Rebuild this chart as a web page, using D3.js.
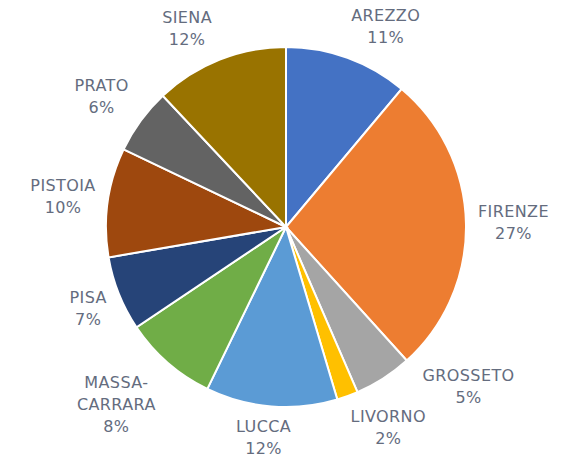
<!DOCTYPE html>
<html>
<head>
<meta charset="utf-8">
<script src="https://cdn.jsdelivr.net/npm/d3@7"></script>
<style>
  body { margin: 0; background: #fff; }
  svg text { font-family: "DejaVu Sans", sans-serif; font-size: 16px; letter-spacing: 0.4px; fill: #646c7e; }
</style>
</head>
<body>
<svg id="pie" width="564" height="457"></svg>
<script>
// provinces, clockwise from 12 o'clock
const province = ["AREZZO", "FIRENZE", "GROSSETO", "LIVORNO", "LUCCA",
                  "MASSA-CARRARA", "PISA", "PISTOIA", "PRATO", "SIENA"];
const quota = [11.1, 27.2, 5.2, 1.9, 11.8, 8.4, 6.7, 9.8, 5.9, 12.0];
const colori = ["#4472C4", "#ED7D31", "#A5A5A5", "#FFC000", "#5B9BD5",
                "#70AD47", "#264478", "#9E480E", "#636363", "#997300"];

const svg = d3.select("#pie"),
  cx = 286, cy = 227, R = 180;

const data = province.map((p, i) => ({ nome: p, valore: quota[i] }));
const totale = d3.sum(quota);

const pie = d3.pie().sort(null).value(d => d.valore);
const arc = d3.arc().innerRadius(0).outerRadius(R);
const archi = pie(data);

const g = svg.append("g").attr("transform", "translate(" + cx + "," + cy + ")");

g.selectAll("path")
  .data(archi)
  .enter()
  .append("path")
  .attr("d", arc)
  .attr("fill", (d, i) => colori[i])
  .attr("stroke", "#fff")
  .attr("stroke-width", 2);

// labels: name (split after hyphen) + percent
const lineH = 22;
const etichette = g.selectAll("text.lab")
  .data(archi)
  .enter()
  .append("text")
  .attr("class", "lab")
  .attr("text-anchor", "middle");

etichette.each(function(d) {
  const righe = d.data.nome.split(/(?<=-)/);
  righe.push(Math.round(d.data.valore / totale * 100) + "%");
  const t = d3.select(this);
  righe.forEach((r, k) => {
    t.append("tspan").attr("x", 0).attr("dy", k === 0 ? 0 : lineH).text(r);
  });
});

const clamp = v => Math.max(-1, Math.min(1, v));
function posizione(el, ang) {
  const bb = el.getBBox();
  const s = Math.sin(ang), c = Math.cos(ang);
  const x = R * s + (bb.width / 2 + 12) * clamp(s * 2.4);
  const y = -R * c - (bb.height / 2 + 11) * clamp(c * 1.3);
  return { x: x, y: y, w: bb.width, h: bb.height, oy: bb.y + bb.height / 2 };
}

const nodi = etichette.nodes();
const box = archi.map((d, i) => {
  const ang = (d.startAngle + d.endAngle) / 2;
  return Object.assign({ ang: ang }, posizione(nodi[i], ang));
});

// push overlapping labels apart: rotate the earlier one back
function sovrapposti(a, b) {
  return Math.abs(a.x - b.x) < (a.w + b.w) / 2 + 4 && Math.abs(a.y - b.y) < (a.h + b.h) / 2;
}
for (let i = 0; i < box.length - 1; i++) {
  let guard = 0;
  while (sovrapposti(box[i], box[i + 1]) && guard < 60) {
    const ang = box[i].ang - Math.PI / 180;
    box[i] = Object.assign({ ang: ang }, posizione(nodi[i], ang));
    guard++;
  }
}

etichette.attr("transform", (d, i) =>
  "translate(" + box[i].x + "," + (box[i].y - box[i].oy) + ")");
</script>
</body>
</html>
